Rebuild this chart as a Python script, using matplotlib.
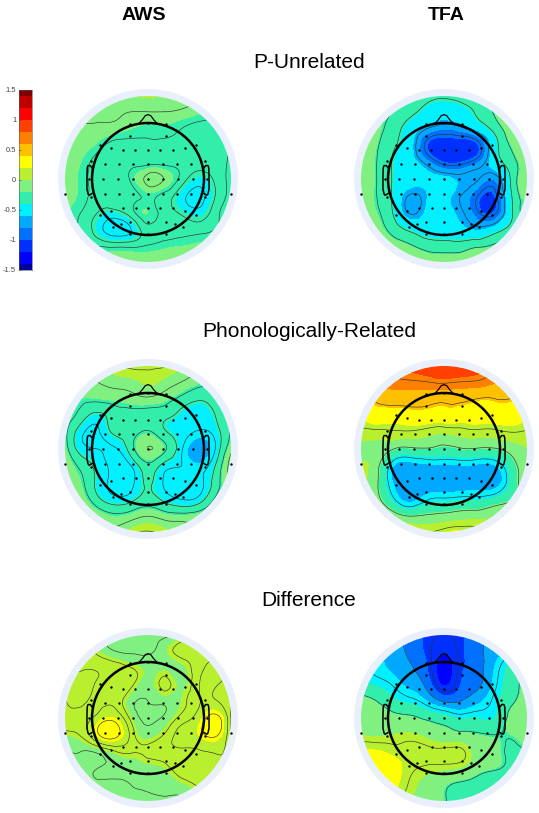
import numpy as np
import matplotlib
matplotlib.use("Agg")
import matplotlib.pyplot as plt
import matplotlib.tri as mtri
from matplotlib.colors import BoundaryNorm, ListedColormap
from matplotlib.patches import Circle

plt.rcParams['font.family'] = ['Liberation Sans', 'DejaVu Sans']

# Colour scale
levels = [-1.5, -1.4, -1.2, -1.0, -0.8, -0.6, -0.4, -0.2, 0, 0.2, 0.4, 0.6, 0.8, 1.0, 1.2, 1.4, 1.5]
colors = ['#00009f', '#0000ff', '#0030ff', '#0070ff', '#00a8ff', '#00f0ff', '#33eeaa', '#80f080',
          '#b8f030', '#ffff00', '#ffc000', '#ff8000', '#ff4000', '#ff0000', '#c00000', '#800000']
cbar_ticks = [-1.5, -1, -0.5, 0, 0.5, 1, 1.5]
cbar_labels = ['-1.5', '-1', '-0.5', '0', '0.5', '1', '1.5']

# Electrodes, head radius = 1
elec_x = [-.32, 0, .32, -.32, .32, -.86, .86, -.66, .66, -.45, -.23, 0, .22, .44, -1.01, 1.01,
          -.76, -.51, -.26, 0, .26, .51, .76, -1.06, -.81, -.53, -.26, 0, .26, .53, .8, 1.06,
          -.76, -.51, -.26, 0, .26, .51, .76, -1.01, 1.01, -.45, -.22, 0, .22, .45, -.66, .66,
          -.86, .86, -.32, 0, .32, -.48, .48, -.62, .62, -.32, 0, .32, -1.476, 1.476]
elec_y = [.98, 1.0, .98, .77, .77, .61, .61, .56, .56, .51, .51, .51, .51, .51, .33, .33,
          .27, .27, .27, .27, .27, .27, .27, 0, 0, 0, 0, 0, 0, 0, 0, 0,
          -.26, -.26, -.26, -.26, -.26, -.26, -.26, -.33, -.33, -.52, -.52, -.52, -.52, -.52, -.58, -.58,
          -.64, -.64, -.77, -.77, -.77, -.81, -.81, -.85, -.85, -.98, -.98, -.98, -.27, -.27]

# Amplitude read on a coarse grid, columns x = -1.5..1.5, rows y = 1.5..-1.5
grid_x = [-1.5, -1.2, -.9, -.6, -.3, 0, .3, .6, .9, 1.2, 1.5]
grid_y = [1.5, 1.2, .9, .6, .3, 0, -.3, -.6, -.9, -1.2, -1.5]

aws_unrelated = [
    [-.1, -.1, -.1, -.05, 0, .02, 0, -.05, -.1, -.1, -.1],
    [-.1, -.1, -.1, -.1, -.12, -.12, -.12, -.14, -.18, -.22, -.24],
    [-.12, -.13, -.14, -.16, -.2, -.22, -.22, -.26, -.3, -.3, -.28],
    [-.12, -.16, -.22, -.3, -.3, -.3, -.3, -.3, -.3, -.3, -.26],
    [-.13, -.2, -.3, -.32, -.3, -.3, -.3, -.3, -.32, -.3, -.24],
    [-.14, -.22, -.3, -.3, -.24, -.08, -.13, -.3, -.42, -.34, -.22],
    [-.16, -.22, -.3, -.3, -.3, -.23, -.3, -.44, -.52, -.36, -.22],
    [-.18, -.26, -.36, -.4, -.3, -.2, -.3, -.38, -.44, -.3, -.2],
    [-.2, -.28, -.42, -.55, -.48, -.3, -.3, -.3, -.3, -.26, -.2],
    [-.2, -.24, -.26, -.28, -.28, -.25, -.22, -.2, -.18, -.16, -.15],
    [-.12, -.12, -.12, -.12, -.12, -.12, -.12, -.12, -.12, -.12, -.12]]
tfa_unrelated = [
    [-.1, -.1, -.15, -.2, -.3, -.35, -.3, -.2, -.1, -.02, 0],
    [-.1, -.15, -.22, -.32, -.46, -.5, -.46, -.35, -.2, -.05, 0],
    [-.1, -.17, -.3, -.48, -.68, -.78, -.72, -.55, -.32, -.12, 0],
    [-.12, -.2, -.36, -.54, -1.0, -1.15, -1.15, -1.02, -.48, -.2, -.08],
    [-.12, -.22, -.4, -.52, -.75, -1.0, -1.0, -.82, -.5, -.28, -.12],
    [-.12, -.22, -.4, -.5, -.55, -.55, -.62, -.66, -.78, -.35, -.15],
    [-.12, -.22, -.42, -.7, -.6, -.55, -.68, -.92, -1.0, -.4, -.2],
    [-.12, -.2, -.4, -.7, -.56, -.52, -.65, -.9, -.98, -.42, -.2],
    [-.1, -.16, -.28, -.42, -.48, -.5, -.55, -.62, -.5, -.3, -.18],
    [-.05, -.1, -.14, -.2, -.28, -.3, -.3, -.24, -.2, -.15, -.1],
    [-.05, -.05, -.08, -.1, -.12, -.15, -.12, -.1, -.08, -.05, -.05]]
aws_related = [
    [-.1, -.1, -.05, .05, .12, .1, .1, .02, -.05, -.1, -.1],
    [-.12, -.12, -.1, -.05, -.03, .02, -.03, -.1, -.18, -.2, -.12],
    [-.15, -.2, -.2, -.18, -.15, -.12, -.17, -.28, -.36, -.3, -.15],
    [-.15, -.3, -.42, -.3, -.3, -.3, -.34, -.42, -.45, -.38, -.18],
    [-.18, -.46, -.52, -.35, -.3, -.22, -.36, -.44, -.52, -.45, -.2],
    [-.15, -.44, -.5, -.52, -.3, -.1, -.22, -.48, -.72, -.5, -.12],
    [-.08, -.28, -.42, -.55, -.5, -.28, -.44, -.5, -.58, -.38, -.02],
    [-.1, -.2, -.42, -.54, -.54, -.36, -.52, -.56, -.55, -.32, -.1],
    [-.1, -.14, -.34, -.46, -.42, -.32, -.42, -.5, -.46, -.22, -.1],
    [-.1, -.1, -.14, -.2, -.16, -.1, -.16, -.18, -.16, -.1, -.1],
    [-.1, -.1, -.1, -.08, .05, .1, .05, -.02, -.08, -.1, -.1]]
tfa_related = [
    [.6, .7, .8, .85, .9, .95, .95, .85, .75, .65, .55],
    [.5, .62, .68, .7, .72, .75, .72, .7, .62, .55, .45],
    [.3, .45, .5, .5, .48, .46, .46, .42, .42, .42, .35],
    [.18, .32, .3, .33, .33, .32, .3, .3, .3, .3, .22],
    [.08, .08, .1, .1, .06, .02, .06, .08, .08, .12, .1],
    [-.05, -.05, -.18, -.22, -.2, -.25, -.2, -.2, -.2, -.1, 0],
    [0, -.12, -.6, -.68, -.64, -.62, -.62, -.64, -.62, -.3, -.02],
    [0, -.15, -.62, -.72, -.74, -.74, -.74, -.72, -.72, -.35, -.03],
    [.02, -.12, -.45, -.66, -.5, -.45, -.42, -.42, -.34, -.2, 0],
    [.05, .02, -.08, -.18, -.15, -.12, -.08, -.06, -.02, .02, .05],
    [.2, .2, .15, .12, .12, .2, .25, .2, .15, .12, .12]]
aws_difference = [
    [-.05, -.05, -.08, -.1, -.12, -.12, -.12, -.05, .02, .05, .05],
    [.05, .05, 0, -.08, -.1, -.1, -.02, .06, .08, .1, .08],
    [.08, .1, .1, .08, .03, -.02, -.02, -.02, .08, .12, .1],
    [.11, .14, .1, .09, .05, -.04, .05, -.02, .1, .12, .08],
    [.1, .13, .09, .09, -.05, -.08, -.05, .0, .1, .12, .04],
    [.08, .08, .15, .2, .0, -.1, -.06, .06, .16, .28, 0],
    [0, .04, .22, .28, .08, -.03, .04, .15, .2, .26, 0],
    [-.1, -.08, -.06, .02, .04, .05, .08, .1, .1, .12, .08],
    [-.1, -.1, -.08, -.06, -.05, -.03, 0, .08, .1, .1, .08],
    [-.1, -.1, -.1, -.1, -.08, -.07, -.05, -.02, .04, .06, .05],
    [-.1, -.1, -.1, -.1, -.1, -.1, -.1, -.1, -.05, 0, 0]]
tfa_difference = [
    [-.5, -.5, -.75, -.85, -1.05, -1.1, -1.05, -.85, -.7, -.5, -.4],
    [-.5, -.55, -.7, -.85, -1.05, -1.18, -1.05, -.85, -.7, -.5, -.35],
    [-.5, -.55, -.65, -.78, -1.0, -1.28, -1.05, -.88, -.6, -.35, -.25],
    [-.35, -.42, -.52, -.66, -.88, -1.22, -1.0, -.85, -.55, -.3, -.15],
    [-.15, -.22, -.36, -.44, -.6, -.82, -.8, -.65, -.46, -.26, -.1],
    [-.1, -.1, -.15, -.18, -.25, -.32, -.42, -.4, -.4, -.15, -.05],
    [0, -.02, 0, .02, -.05, -.12, -.16, -.2, -.22, -.2, -.12],
    [.2, .22, .15, .14, .12, .12, .12, -.1, -.18, -.24, -.22],
    [.3, .35, .28, .12, .05, .02, -.02, -.15, -.2, -.26, -.3],
    [.3, .3, .25, .05, -.05, -.18, -.25, -.3, -.38, -.35, -.3],
    [.2, .2, .15, 0, -.05, -.2, -.25, -.3, -.4, -.35, -.3]]

# Contour lines drawn on each map
lines_aws_unrelated = [-.48, -.36, -.26, -.12]
lines_tfa_unrelated = [-.93, -.68, -.38, -.22, -.08]
lines_aws_related = [-.5, -.38, -.24, -.1, .08]
lines_tfa_related = [-.48, -.18, .12, .42, .72]
lines_aws_difference = [-.08, .03, .11, .24]
lines_tfa_difference = [-1.1, -.8, -.5, -.22, .08]

panels = [(148, 179, aws_unrelated, lines_aws_unrelated),
          (444, 179, tfa_unrelated, lines_tfa_unrelated),
          (148, 449, aws_related, lines_aws_related),
          (444, 449, tfa_related, lines_tfa_related),
          (148, 718, aws_difference, lines_aws_difference),
          (444, 718, tfa_difference, lines_tfa_difference)]

W, H = 539, 813
HEAD_PX = 56
SPAN_PX = 95

cmap = ListedColormap(colors)
norm = BoundaryNorm(levels, cmap.N)

fig = plt.figure(figsize=(W / 100, H / 100), dpi=100)
fig.patch.set_facecolor('white')

gx, gy = np.meshgrid(grid_x, grid_y)
tri = mtri.Triangulation(gx.ravel(), gy.ravel())


def draw_head(ax):
    ax.add_patch(Circle((0, 0), 1.0, fill=False, ec='black', lw=1.8, zorder=5))
    nx = [-.17, -.1, -.05, 0, .05, .1, .17]
    ny = [.985, 1.06, 1.13, 1.15, 1.13, 1.06, .985]
    ax.plot(nx, ny, color='black', lw=.9, zorder=5)
    ex = np.array([1.0, 1.03, 1.07, 1.085, 1.09, 1.09, 1.07, 1.05, 1.0])
    ey = np.array([.2, .24, .24, .2, .05, -.18, -.27, -.29, -.26])
    ax.plot(ex, ey, color='black', lw=1.1, zorder=5)
    ax.plot(-ex, ey, color='black', lw=1.1, zorder=5)


for cx, cy, values, line_levels in panels:
    ax = fig.add_axes([(cx - SPAN_PX) / W, 1 - (cy + SPAN_PX) / H, 2 * SPAN_PX / W, 2 * SPAN_PX / H])
    lim = SPAN_PX / HEAD_PX
    ax.set_xlim(-lim, lim)
    ax.set_ylim(-lim, lim)
    ax.axis('off')

    ax.add_patch(Circle((0, 0), 90 / HEAD_PX, fc='#e9f0fb', ec='none', zorder=0))
    disc = Circle((0, 0), 83 / HEAD_PX, transform=ax.transData)

    z = np.array(values).ravel()
    refiner = mtri.UniformTriRefiner(tri)
    tri2, z2 = refiner.refine_field(z, mtri.CubicTriInterpolator(tri, z, kind='min_E'), subdiv=3)
    fills = ax.tricontourf(tri2, z2, levels=levels, cmap=cmap, norm=norm, extend='both', zorder=1)
    fills.set_clip_path(disc)
    cl = ax.tricontour(tri2, z2, levels=line_levels, colors='#303030', linewidths=.45, linestyles='solid', zorder=2)
    cl.set_clip_path(disc)

    draw_head(ax)
    ax.scatter(elec_x, elec_y, s=3, c='black', linewidths=0, zorder=6)

# Colorbar
cax = fig.add_axes([19 / W, 1 - 270 / H, 13 / W, 180 / H])
for i, c in enumerate(colors):
    cax.barh(levels[i], 1, height=levels[i + 1] - levels[i], align='edge', color=c, linewidth=0)
cax.set_xlim(0, 1)
cax.set_ylim(-1.5, 1.5)
cax.set_xticks([])
cax.set_yticks(cbar_ticks)
cax.set_yticklabels(cbar_labels, fontsize=5.5, color='#444444')
cax.tick_params(axis='y', length=1.5, width=.4, pad=2, direction='in', color='#333333')
for s in cax.spines.values():
    s.set_linewidth(.4)
    s.set_color('#555555')

# Text
fig.text(144 / W, 1 - 20 / H, 'AWS', fontsize=14, fontweight='bold', ha='center', va='baseline')
fig.text(446 / W, 1 - 20 / H, 'TFA', fontsize=14, fontweight='bold', ha='center', va='baseline')
fig.text(309 / W, 1 - 68 / H, 'P-Unrelated', fontsize=15, ha='center', va='baseline')
fig.text(309 / W, 1 - 337 / H, 'Phonologically-Related', fontsize=15, ha='center', va='baseline')
fig.text(309 / W, 1 - 606 / H, 'Difference', fontsize=15, ha='center', va='baseline')

fig.savefig('out.png', dpi=100)
